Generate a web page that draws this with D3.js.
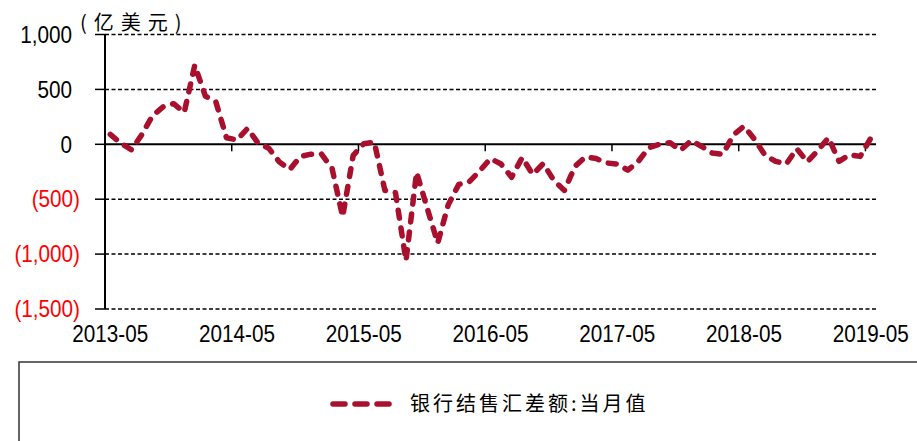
<!DOCTYPE html>
<html>
<head>
<meta charset="utf-8">
<script src="https://cdn.jsdelivr.net/npm/d3@7"></script>
<style>
  body { margin: 0; background: #fff; }
  svg { display: block; }
</style>
</head>
<body>
<div id="main"></div>
<script>
// monthly categories 2013-05 .. 2019-05
var months = d3.timeMonth.range(new Date(2013, 4, 1), new Date(2019, 5, 1))
    .map(d3.timeFormat("%Y-%m"));

// 银行结售汇差额:当月值 (亿美元)
var balance = [
    90,   10,  -50,   90,  260,  340,  370,  290,  720,  440,  385,   60,
    40,  145,   10,  -35, -160, -230, -110,  -90,  -90, -220, -660, -100,
     5,   20, -420, -440,-1060, -255, -580, -900, -550, -365, -340, -240,
  -130, -180, -300, -120, -275, -175, -330, -420, -200, -115, -130, -170,
  -180, -235, -155,  -30,    0,   15,  -55,   35,  -20,  -80,  -90,   85,
   165,   45, -100, -155, -180,  -40, -160,  -55,   60, -155,  -95, -110,
    55
];

var yTicks = [1000, 500, 0, -500, -1000, -1500];
var xTickLabels = ["2013-05", "2014-05", "2015-05", "2016-05", "2017-05", "2018-05", "2019-05"];
var unitLabel = "(亿美元)";
var seriesName = "银行结售汇差额:当月值";

var width = 917, height = 441;
var lineColor = "#a8102e";
var latin = "'Liberation Sans', Arial, sans-serif";
var cjk = "'Noto Sans CJK SC', 'Noto Sans', sans-serif";
var squeeze = 0.9;   // axis numbers are a little condensed

var svg = d3.select("#main").append("svg")
    .attr("width", width)
    .attr("height", height);

var x = d3.scaleBand().domain(months).range([105, 876]);
var y = d3.scaleLinear().domain([-1500, 1000]).range([309, 34.5]);
var bw = x.bandwidth();

// dashed gridlines
svg.append("g").selectAll("line")
    .data(yTicks.filter(function(d) { return d !== 0; }))
    .enter().append("line")
    .attr("x1", 105).attr("x2", 876)
    .attr("y1", function(d) { return y(d); })
    .attr("y2", function(d) { return y(d); })
    .attr("stroke", "#000")
    .attr("stroke-width", 1.5)
    .attr("stroke-dasharray", "4,2.5");

// left tick marks
svg.append("g").selectAll("line")
    .data(yTicks)
    .enter().append("line")
    .attr("x1", 95).attr("x2", 105)
    .attr("y1", function(d) { return y(d); })
    .attr("y2", function(d) { return y(d); })
    .attr("stroke", "#000")
    .attr("stroke-width", 1.5);

// y axis line
svg.append("line")
    .attr("x1", 105).attr("x2", 105)
    .attr("y1", y(1000)).attr("y2", y(-1500))
    .attr("stroke", "#000").attr("stroke-width", 2);

// zero line (category axis)
svg.append("line")
    .attr("x1", 105).attr("x2", 876)
    .attr("y1", y(0)).attr("y2", y(0))
    .attr("stroke", "#000").attr("stroke-width", 2);

// category ticks every 12 months
svg.append("g").selectAll("line")
    .data(xTickLabels)
    .enter().append("line")
    .attr("x1", function(d) { return x(d); })
    .attr("x2", function(d) { return x(d); })
    .attr("y1", y(0)).attr("y2", y(0) + 7)
    .attr("stroke", "#000").attr("stroke-width", 1.5);

// y labels
var fmt = d3.format(",");
svg.append("g").selectAll("text")
    .data(yTicks)
    .enter().append("text")
    .attr("transform", function(d) {
      return "translate(" + (d < 0 ? 80 : 72) + "," + y(d) + ") scale(" + squeeze + ",1)";
    })
    .attr("dy", "0.36em")
    .attr("text-anchor", "end")
    .attr("font-family", latin)
    .attr("font-size", 23)
    .attr("fill", function(d) { return d < 0 ? "#ff0000" : "#000"; })
    .text(function(d) { return d < 0 ? "(" + fmt(-d) + ")" : fmt(d); });

// x labels
svg.append("g").selectAll("text")
    .data(xTickLabels)
    .enter().append("text")
    .attr("transform", function(d) {
      return "translate(" + (x(d) + bw / 2) + ",342) scale(" + squeeze + ",1)";
    })
    .attr("text-anchor", "middle")
    .attr("font-family", latin)
    .attr("font-size", 23)
    .attr("fill", "#000")
    .text(function(d) { return d; });

// unit
svg.append("text")
    .attr("x", 80).attr("y", 30)
    .attr("font-family", cjk)
    .attr("font-size", 20)
    .attr("letter-spacing", 7)
    .attr("fill", "#000")
    .text(unitLabel);

// data line
var line = d3.line()
    .x(function(d, i) { return x(months[i]) + bw / 2; })
    .y(function(d) { return y(d); });

svg.append("path")
    .datum(balance)
    .attr("d", line)
    .attr("fill", "none")
    .attr("stroke", lineColor)
    .attr("stroke-width", 5.5)
    .attr("stroke-linecap", "round")
    .attr("stroke-linejoin", "round")
    .attr("stroke-dasharray", "8,10");

// legend box
svg.append("rect")
    .attr("x", 19).attr("y", 362)
    .attr("width", 920).attr("height", 100)
    .attr("fill", "none")
    .attr("stroke", "#333")
    .attr("stroke-width", 1.5);

svg.append("line")
    .attr("x1", 333).attr("x2", 393)
    .attr("y1", 404).attr("y2", 404)
    .attr("stroke", lineColor)
    .attr("stroke-width", 5.5)
    .attr("stroke-linecap", "round")
    .attr("stroke-dasharray", "12,10");

svg.append("text")
    .attr("x", 410).attr("y", 404)
    .attr("dy", "0.36em")
    .attr("font-family", cjk)
    .attr("font-size", 20)
    .attr("letter-spacing", 3)
    .attr("fill", "#000")
    .text(seriesName);
</script>
</body>
</html>
